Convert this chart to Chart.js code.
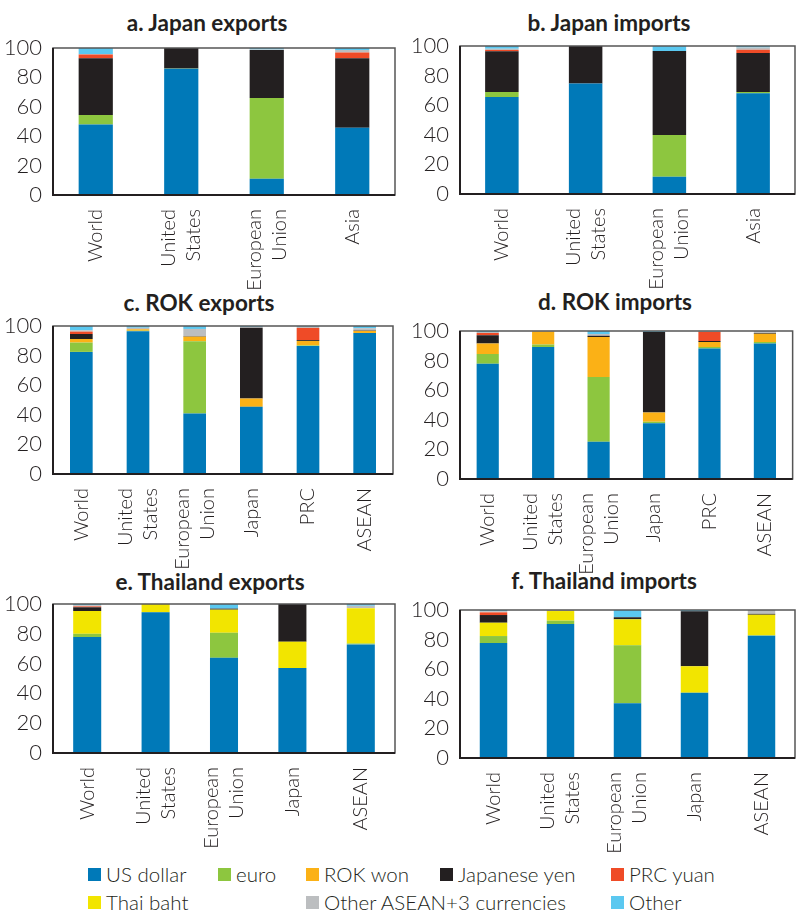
<!DOCTYPE html>
<html>
<head>
<meta charset="utf-8">
<script src="https://cdn.jsdelivr.net/npm/chart.js@4.4.1/dist/chart.umd.min.js"></script>
<style>
  body { margin:0; width:796px; height:914px; overflow:hidden; background:#fff; position:relative; font-family: Lato, sans-serif; color:#231f20; }
  canvas { position:absolute; }
  .title { position:absolute; font-weight:700; font-size:22.5px; line-height:22px; white-space:nowrap; transform:translateX(-50%); }
  .leg { position:absolute; font-size:20.5px; font-weight:300; line-height:20px; white-space:nowrap; }
  .leg i { position:absolute; left:-18px; top:4px; width:13px; height:13px; }
</style>
</head>
<body>
<div class="title" style="left:207px;top:12px">a. Japan exports</div>
<div class="title" style="left:609px;top:12px">b. Japan imports</div>
<div class="title" style="left:199px;top:292px">c. ROK exports</div>
<div class="title" style="left:615px;top:291px">d. ROK imports</div>
<div class="title" style="left:210px;top:571px">e. Thailand exports</div>
<div class="title" style="left:604px;top:570px">f. Thailand imports</div>

<div class="leg" style="left:106px;top:864px"><i style="background:#0079b8"></i>US dollar</div>
<div class="leg" style="left:236px;top:864px"><i style="background:#8dc63f"></i>euro</div>
<div class="leg" style="left:324px;top:864px"><i style="background:#fbb116"></i>ROK won</div>
<div class="leg" style="left:458px;top:864px"><i style="background:#231f20"></i>Japanese yen</div>
<div class="leg" style="left:629px;top:864px"><i style="background:#ef4b27"></i>PRC yuan</div>
<div class="leg" style="left:106px;top:892px"><i style="background:#f2e500"></i>Thai baht</div>
<div class="leg" style="left:324px;top:892px"><i style="background:#bcbec0"></i>Other ASEAN+3 currencies</div>
<div class="leg" style="left:629px;top:892px"><i style="background:#5bc8f0"></i>Other</div>

<script>
// categories
const catsJP = ['World', ['United', 'States'], ['European', 'Union'], 'Asia'];
const catsKR = ['World', ['United', 'States'], ['European', 'Union'], 'Japan', 'PRC', 'ASEAN'];
const catsTH = ['World', ['United', 'States'], ['European', 'Union'], 'Japan', 'ASEAN'];
const yTicks = [0, 20, 40, 60, 80, 100];

// a. Japan exports (%)
const jpExUSD = [48, 85.8, 11, 45.8];
const jpExEUR = [6.5, 0.3, 55, 0];
const jpExJPY = [38.5, 13.9, 32.6, 47.2];
const jpExCNY = [2.5, 0, 0, 3.9];
const jpExA3  = [0.3, 0, 0.4, 1.7];
const jpExOTH = [4.2, 0, 1.0, 1.4];

// b. Japan imports
const jpImUSD = [65.6, 74.6, 11.7, 68.1];
const jpImEUR = [3.4, 0, 28.1, 0.9];
const jpImJPY = [27.5, 25.4, 56.8, 26.3];
const jpImCNY = [0.8, 0, 0, 2.2];
const jpImA3  = [0.9, 0, 0, 1.5];
const jpImOTH = [1.8, 0, 3.4, 1.0];

// c. ROK exports
const krExUSD = [82.5, 96.5, 40.9, 45.4, 86.5, 95.3];
const krExEUR = [6.3, 0.3, 48.8, 0, 0.4, 0];
const krExKRW = [2.4, 1.0, 3.1, 5.6, 3.0, 1.4];
const krExJPY = [3.4, 0, 0.3, 47.9, 0.6, 0.3];
const krExCNY = [1.6, 0, 0, 0, 8.2, 0];
const krExA3  = [0.9, 1.0, 4.9, 0.5, 0.8, 1.5];
const krExOTH = [2.9, 1.2, 2.0, 0.6, 0.5, 1.5];

// d. ROK imports
const krImUSD = [77.8, 89.2, 25.2, 37.6, 88.1, 91.5];
const krImEUR = [6.7, 1.6, 43.8, 1.0, 1.1, 1.1];
const krImKRW = [7.0, 8.8, 27.0, 6.4, 3.4, 5.6];
const krImJPY = [5.6, 0, 0.8, 54.3, 0.7, 0.4];
const krImCNY = [1.5, 0, 0, 0, 6.0, 0];
const krImA3  = [0.7, 0.4, 1.2, 0, 0.7, 1.4];
const krImOTH = [0.7, 0, 2.0, 0.7, 0, 0];

// e. Thailand exports
const thExUSD = [77.8, 94.4, 63.9, 57.0, 72.9];
const thExEUR = [2.2, 0, 16.8, 0, 0.6];
const thExTHB = [15.3, 5.6, 15.5, 17.7, 23.7];
const thExJPY = [2.5, 0, 0.7, 25.3, 0];
const thExCNY = [0.6, 0, 0, 0, 0];
const thExA3  = [0.8, 0, 0, 0, 1.6];
const thExOTH = [0.8, 0, 3.1, 0, 1.2];

// f. Thailand imports
const thImUSD = [77.7, 90.5, 37.0, 44.1, 82.6];
const thImEUR = [4.7, 2.3, 39.1, 0, 0.3];
const thImTHB = [9.0, 6.5, 17.6, 17.9, 13.9];
const thImJPY = [5.2, 0, 1.4, 37.1, 0.6];
const thImCNY = [1.8, 0, 0, 0, 0];
const thImA3  = [0.8, 0.7, 0, 0, 2.6];
const thImOTH = [0.8, 0, 4.9, 0.9, 0];

const col = { usd: '#0079b8', eur: '#8dc63f', krw: '#fbb116', thb: '#f2e500', jpy: '#231f20', cny: '#ef4b27', a3: '#bcbec0', oth: '#5bc8f0' };
const ink = '#231f20';
const xFont = { family: 'Lato', size: 20, weight: 300, lineHeight: 1.25 };
const yFont = { family: 'Lato', size: 22, weight: 300 };

// box around plot area
const frame = {
  id: 'frame',
  afterDraw(chart) {
    const a = chart.chartArea, c = chart.ctx;
    c.save();
    c.strokeStyle = '#555';
    c.lineWidth = 1.5;
    c.strokeRect(a.left, a.top, a.right - a.left, a.bottom - a.top);
    c.strokeStyle = ink;
    c.lineWidth = 2;
    c.beginPath();
    c.moveTo(a.left, a.top);
    c.lineTo(a.left, a.bottom);
    c.lineTo(a.right, a.bottom);
    c.stroke();
    c.restore();
  }
};

// two-line rotated labels: centre both lines on the tick
const centerLines = {
  id: 'centerLines',
  beforeDraw(chart) {
    const sc = chart.scales.x;
    sc.getLabelItems().forEach(it => {
      if (Array.isArray(it.label) && !it.moved) {
        it.options.translation[0] -= 25 * (it.label.length - 1) / 2;
        it.moved = true;
      }
    });
  }
};

function panel(box, area, cats, series, barPct) {
  const cv = document.createElement('canvas');
  cv.width = box.w; cv.height = box.h;
  cv.style.left = box.x + 'px'; cv.style.top = box.y + 'px';
  document.body.appendChild(cv);
  new Chart(cv, {
    type: 'bar',
    data: {
      labels: cats,
      datasets: series.map(s => ({
        label: s[0], data: s[1], backgroundColor: col[s[0]], borderWidth: 0,
        barPercentage: barPct, categoryPercentage: 1
      }))
    },
    options: {
      responsive: false, animation: false, devicePixelRatio: 1,
      layout: { padding: { left: 0, top: area.top, right: box.w - area.right, bottom: 0 } },
      plugins: { legend: { display: false }, tooltip: { enabled: false } },
      scales: {
        x: {
          stacked: true, grid: { display: false }, border: { display: false },
          ticks: { font: xFont, color: ink, padding: 6, minRotation: 90, maxRotation: 90, autoSkip: false },
          afterFit: s => { s.height = box.h - area.bottom; }
        },
        y: {
          stacked: true, min: 0, max: 100, grid: { display: false }, border: { display: false },
          ticks: { font: yFont, color: ink, padding: 3 },
          afterBuildTicks: s => { s.ticks = yTicks.map(v => ({ value: v })); },
          afterFit: s => { s.width = area.left; }
        }
      }
    },
    plugins: [frame, centerLines]
  });
}

panel({ x: 0, y: 0, w: 400, h: 300 }, { left: 53, right: 395, top: 48, bottom: 195 }, catsJP,
  [['usd', jpExUSD], ['eur', jpExEUR], ['jpy', jpExJPY], ['cny', jpExCNY], ['a3', jpExA3], ['oth', jpExOTH]], 0.4);
panel({ x: 400, y: 0, w: 396, h: 300 }, { left: 60, right: 395, top: 46, bottom: 194 }, catsJP,
  [['usd', jpImUSD], ['eur', jpImEUR], ['jpy', jpImJPY], ['cny', jpImCNY], ['a3', jpImA3], ['oth', jpImOTH]], 0.4);
panel({ x: 0, y: 290, w: 400, h: 285 }, { left: 53, right: 393, top: 36, bottom: 184 }, catsKR,
  [['usd', krExUSD], ['eur', krExEUR], ['krw', krExKRW], ['jpy', krExJPY], ['cny', krExCNY], ['a3', krExA3], ['oth', krExOTH]], 0.4);
panel({ x: 400, y: 290, w: 396, h: 285 }, { left: 60, right: 395, top: 41, bottom: 189 }, catsKR,
  [['usd', krImUSD], ['eur', krImEUR], ['krw', krImKRW], ['jpy', krImJPY], ['cny', krImCNY], ['a3', krImA3], ['oth', krImOTH]], 0.4);
panel({ x: 0, y: 565, w: 400, h: 290 }, { left: 53, right: 395, top: 39, bottom: 188 }, catsTH,
  [['usd', thExUSD], ['eur', thExEUR], ['thb', thExTHB], ['jpy', thExJPY], ['cny', thExCNY], ['a3', thExA3], ['oth', thExOTH]], 0.41);
panel({ x: 400, y: 565, w: 396, h: 290 }, { left: 60, right: 395, top: 45, bottom: 193 }, catsTH,
  [['usd', thImUSD], ['eur', thImEUR], ['thb', thImTHB], ['jpy', thImJPY], ['cny', thImCNY], ['a3', thImA3], ['oth', thImOTH]], 0.41);
</script>
</body>
</html>
